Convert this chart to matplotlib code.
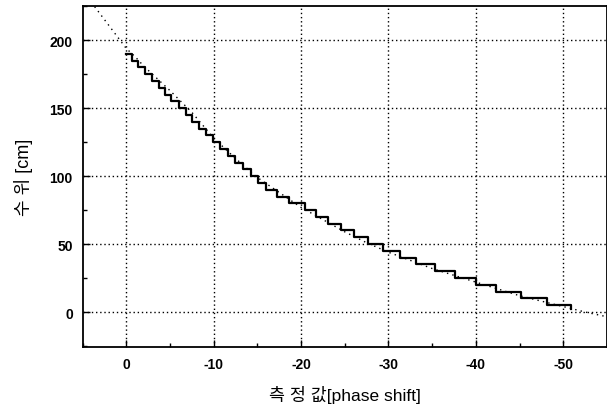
import matplotlib
matplotlib.use("Agg")
import matplotlib.pyplot as plt
from matplotlib.ticker import MultipleLocator

plt.rcParams['font.family'] = ['Liberation Sans', 'Noto Sans CJK KR', 'DejaVu Sans']
plt.rcParams['axes.unicode_minus'] = False

# staircase: phase shift where each new level starts, and the level (cm)
step_x = [0, -0.65, -1.3, -2.2, -3.0, -3.8, -4.4, -5.1, -6.0, -6.8, -7.5,
          -8.3, -9.1, -9.9, -10.7, -11.6, -12.4, -13.3, -14.3, -15.1, -16.0,
          -17.2, -18.6, -20.4, -21.7, -23.1, -24.6, -26.1, -27.6, -29.4,
          -31.3, -33.2, -35.3, -37.6, -40.0, -42.3, -45.2, -48.1, -50.9]
step_y = [190, 185, 180, 175, 170, 165, 160, 155, 150, 145, 140,
          135, 130, 125, 120, 115, 110, 105, 100, 95, 90,
          85, 80, 75, 70, 65, 60, 55, 50, 45,
          40, 35, 30, 25, 20, 15, 10, 5, 2]

# dotted fitted curve
fit_x = [4, 2, 0, -1, -2, -3, -5, -7.5, -10, -12.5, -15, -17.5, -20, -22.5,
         -25, -27.5, -30, -32.5, -35, -37.5, -40, -42.5, -45, -47.5, -50,
         -52.5, -55]
fit_y = [228, 211, 194, 188, 181, 175, 163, 147, 128, 113, 99, 88, 77, 68,
         59, 51, 44, 38, 32, 27, 22, 17, 12, 8, 4, 0, -3.5]

xticks = [0, -10, -20, -30, -40, -50]
yticks = [0, 50, 100, 150, 200]

fig = plt.figure(figsize=(6.07, 4.06), dpi=100)
ax = fig.add_axes([0.136, 0.142, 0.864, 0.84])

ax.plot(fit_x, fit_y, color='black', linewidth=1.0, linestyle=(0, (1, 3)))
ax.step(step_x, step_y, where='post', color='black', linewidth=1.6)

ax.set_xlim(5, -55)
ax.set_ylim(-26, 225)
ax.set_xticks(xticks)
ax.set_xticklabels([str(t) for t in xticks], fontweight='bold')
ax.set_yticks(yticks)
ax.set_yticklabels([str(t) for t in yticks], fontweight='bold')
ax.xaxis.set_minor_locator(MultipleLocator(5))
ax.yaxis.set_minor_locator(MultipleLocator(25))
ax.tick_params(which='both', direction='in', top=False, right=False,
               labelsize=10, width=1.0, color='black')
ax.tick_params(which='major', length=5, pad=7)
ax.tick_params(which='minor', length=3)
ax.grid(True, which='major', color='black', linestyle=(0, (1, 2)), linewidth=1.0)
for s in ax.spines.values():
    s.set_linewidth(1.3)

ax.set_xlabel('측 정 값[phase shift]', fontsize=12.5, labelpad=10)
ax.set_ylabel('수 위 [cm]', fontsize=13, labelpad=12)

fig.savefig('out.png', dpi=100)
